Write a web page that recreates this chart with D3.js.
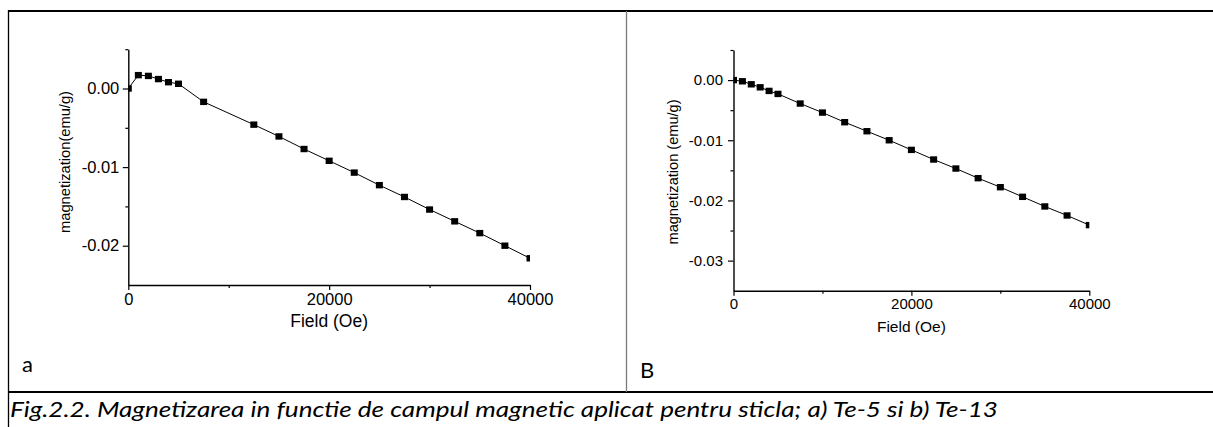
<!DOCTYPE html>
<html>
<head>
<meta charset="utf-8">
<script src="https://cdn.jsdelivr.net/npm/d3@7"></script>
<style>
  html, body { margin: 0; padding: 0; background: #fff; }
  svg { display: block; }
  .tick text { font-family: Arial, 'Liberation Sans', sans-serif; fill: #000; }
</style>
</head>
<body>
<div id="chart"></div>
<script>
// field values (Oe) and magnetization (emu/g)
const fieldA = [0, 1000, 2000, 3000, 4000, 5000, 7500, 12500, 15000, 17500, 20000,
  22500, 25000, 27500, 30000, 32500, 35000, 37500, 40000];
const magA = [0.0000, 0.0017, 0.0016, 0.0012, 0.0008, 0.0006, -0.0017, -0.0046, -0.0061,
  -0.0077, -0.0092, -0.0107, -0.0123, -0.0138, -0.0154, -0.0169, -0.0184, -0.0200, -0.0216];

const fieldB = [0, 1000, 2000, 3000, 4000, 5000, 7500, 10000, 12500, 15000, 17500, 20000,
  22500, 25000, 27500, 30000, 32500, 35000, 37500, 40000];
const magB = [0.0000, -0.0002, -0.0007, -0.0012, -0.0018, -0.0023, -0.0039, -0.0054, -0.0070,
  -0.0085, -0.0100, -0.0116, -0.0132, -0.0147, -0.0163, -0.0178, -0.0194, -0.0210, -0.0225, -0.0241];

const xTicks = [0, 20000, 40000];
const xMinorTicks = [10000, 30000];
const yTicksA = [0, -0.01, -0.02];
const yMinorA = [0.005, -0.005, -0.015];
const yTicksB = [0, -0.01, -0.02, -0.03];
const yMinorB = [0.005, -0.005, -0.015, -0.025];

const xTitle = 'Field (Oe)';
const yTitleA = 'magnetization(emu/g)';
const yTitleB = 'magnetization (emu/g)';
const caption = 'Fig.2.2. Magnetizarea in functie de campul magnetic aplicat pentru sticla; a) Te-5 si b) Te-13';

const width = 1213;
const height = 427;

const svg = d3.select('#chart')
  .append('svg')
  .attr('width', width)
  .attr('height', height);

// table frame of the document
svg.append('line').attr('x1', 8).attr('x2', width).attr('y1', 11).attr('y2', 11)
  .attr('stroke', '#000').attr('stroke-width', 2);
svg.append('line').attr('x1', 8).attr('x2', width).attr('y1', 392).attr('y2', 392)
  .attr('stroke', '#000').attr('stroke-width', 2);
svg.append('line').attr('x1', 8.5).attr('x2', 8.5).attr('y1', 10).attr('y2', height)
  .attr('stroke', '#000').attr('stroke-width', 1.3);
svg.append('line').attr('x1', 626.5).attr('x2', 626.5).attr('y1', 11).attr('y2', 392)
  .attr('stroke', '#7a7a7a').attr('stroke-width', 1.3);

/**
 * Draw one magnetization panel
 */
function drawPanel(cfg) {
  const { field, mag, yTicks, yMinor, xr, yr, ydom, font, titleFont, yTitle } = cfg;

  const x = d3.scaleLinear().domain([0, 40000]).range(xr);
  const y = d3.scaleLinear().domain(ydom).range(yr);

  const g = svg.append('g');

  const clipId = 'clip-' + cfg.id;
  svg.append('clipPath').attr('id', clipId)
    .append('rect')
    .attr('x', xr[0]).attr('y', yr[1] - 5)
    .attr('width', xr[1] - xr[0]).attr('height', yr[0] - yr[1] + 5);

  // minor ticks
  g.append('g')
    .attr('transform', `translate(${xr[0]},0)`)
    .call(d3.axisLeft(y).tickValues(yMinor).tickFormat('').tickSize(3))
    .call(a => a.select('.domain').remove());
  g.append('g')
    .attr('transform', `translate(0,${yr[0]})`)
    .call(d3.axisBottom(x).tickValues(xMinorTicks).tickFormat('').tickSize(3))
    .call(a => a.select('.domain').remove());

  // y axis
  g.append('g')
    .attr('transform', `translate(${xr[0]},0)`)
    .call(d3.axisLeft(y)
      .tickValues(yTicks)
      .tickFormat(d => d.toFixed(2))
      .tickSizeInner(5.5)
      .tickSizeOuter(0)
      .tickPadding(cfg.yPad))
    .call(a => a.selectAll('text').style('font-size', font + 'px'));

  // x axis
  g.append('g')
    .attr('transform', `translate(0,${yr[0]})`)
    .call(d3.axisBottom(x)
      .tickValues(xTicks)
      .tickFormat(d3.format('d'))
      .tickSizeInner(5)
      .tickSizeOuter(0)
      .tickPadding(3))
    .call(a => a.selectAll('text').style('font-size', font + 'px'));

  g.selectAll('.domain').attr('stroke-width', 1.4);
  g.selectAll('.tick line').attr('stroke-width', 1.2);

  // curve + square markers
  const pts = field.map((f, i) => ({ f, m: mag[i] }));
  const plot = g.append('g').attr('clip-path', `url(#${clipId})`);

  plot.append('path')
    .datum(pts)
    .attr('fill', 'none')
    .attr('stroke', '#000')
    .attr('stroke-width', 1)
    .attr('d', d3.line().x(d => x(d.f)).y(d => y(d.m)));

  plot.selectAll('rect.pt')
    .data(pts)
    .enter()
    .append('rect')
    .attr('class', 'pt')
    .attr('x', d => x(d.f) - 3.5)
    .attr('y', d => y(d.m) - 3.2)
    .attr('width', 7)
    .attr('height', 6.4)
    .attr('fill', '#000');

  // axis titles
  g.append('text')
    .text(xTitle)
    .attr('x', (xr[0] + xr[1]) / 2)
    .attr('y', cfg.xTitleY)
    .attr('text-anchor', 'middle')
    .style('font-family', 'Arial, "Liberation Sans", sans-serif')
    .style('font-size', titleFont + 'px');

  g.append('text')
    .text(yTitle)
    .attr('text-anchor', 'middle')
    .attr('transform', `translate(${cfg.yTitleX},${cfg.yTitleY}) rotate(-90)`)
    .attr('textLength', cfg.yTitleLen)
    .attr('lengthAdjust', 'spacingAndGlyphs')
    .style('font-family', 'Arial, "Liberation Sans", sans-serif')
    .style('font-size', cfg.yTitleFont + 'px');

  // panel letter
  svg.append('text')
    .text(cfg.letter)
    .attr('x', cfg.letterPos[0])
    .attr('y', cfg.letterPos[1])
    .style('font-family', 'Lato, "Open Sans", sans-serif')
    .style('font-size', '22px');
}

drawPanel({
  id: 'a', field: fieldA, mag: magA, yTicks: yTicksA, yMinor: yMinorA,
  xr: [128.3, 530], yr: [285, 49.2], ydom: [-0.025, 0.005],
  font: 16.5, titleFont: 17.5, yPad: 3.5, xTitleY: 327,
  yTitle: yTitleA, yTitleX: 70, yTitleY: 162, yTitleLen: 142, yTitleFont: 15,
  letter: 'a', letterPos: [22, 371.5]
});

drawPanel({
  id: 'b', field: fieldB, mag: magB, yTicks: yTicksB, yMinor: yMinorB,
  xr: [733.5, 1089.3], yr: [290.7, 50], ydom: [-0.035, 0.005],
  font: 15, titleFont: 15.5, yPad: 5, xTitleY: 332,
  yTitle: yTitleB, yTitleX: 678, yTitleY: 172, yTitleLen: 145, yTitleFont: 15,
  letter: 'B', letterPos: [640, 378]
});

// caption below the table row
svg.append('text')
  .text(caption)
  .attr('x', 10)
  .attr('y', 417)
  .attr('textLength', 988)
  .attr('lengthAdjust', 'spacingAndGlyphs')
  .style('font-family', 'Lato, "Open Sans", sans-serif')
  .style('font-style', 'italic')
  .style('font-size', '22px');
</script>
</body>
</html>
